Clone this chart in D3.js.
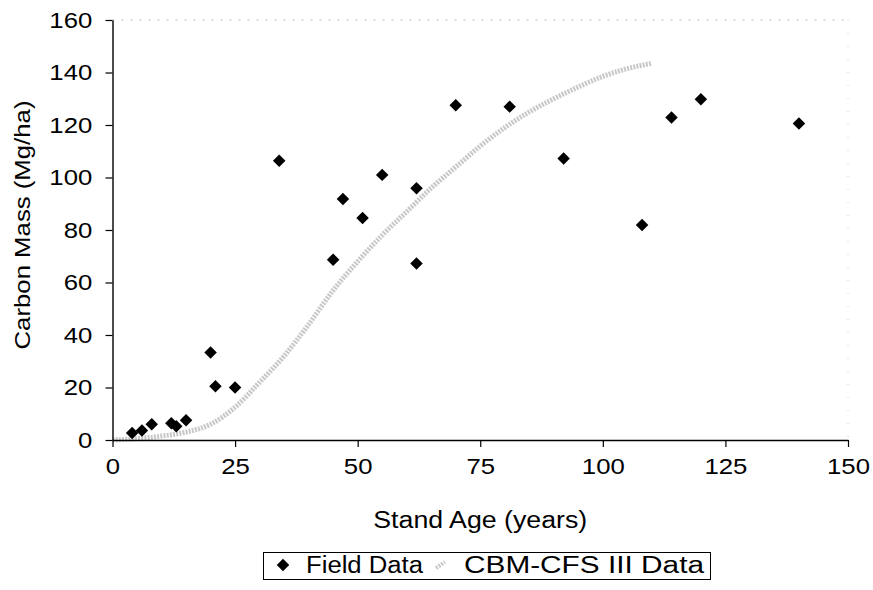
<!DOCTYPE html>
<html>
<head>
<meta charset="utf-8">
<script src="https://cdn.jsdelivr.net/npm/d3@7"></script>
<style>
  html, body { margin: 0; padding: 0; background: #fff; }
  svg { display: block; }
  text { font-family: "Liberation Sans", Arial, sans-serif; fill: #000; }
</style>
</head>
<body>
<svg id="chart" width="873" height="590"></svg>
<script>
// ---- Data ----
const fieldAge    = [4, 6, 8, 12, 13, 15, 20, 21, 25, 34, 45, 47, 51, 55, 62, 62, 70, 81, 92, 108, 114, 120, 140];
const fieldCarbon = [2.7, 3.6, 6, 6.4, 5.2, 7.5, 33.3, 20.5, 20, 106.4, 68.7, 91.8, 84.6, 101, 95.9, 67.2, 127.5, 127, 107.2, 81.9, 122.9, 129.8, 120.6];

const cbmAge    = [0, 5, 10, 15, 20, 25, 30, 35, 40, 45, 50, 55, 60, 65, 70, 75, 80, 85, 90, 95, 100, 105, 110];
const cbmCarbon = [0, 0.5, 1.5, 3, 6, 12.5, 22, 32, 44, 57, 68, 78, 87, 96, 104, 112, 119, 125, 130, 134.5, 138.5, 141.5, 143.5];

const xTicks = [0, 25, 50, 75, 100, 125, 150];
const yTicks = [0, 20, 40, 60, 80, 100, 120, 140, 160];

const xTitle = "Stand Age (years)";
const yTitle = "Carbon Mass (Mg/ha)";
const seriesNames = ["Field Data", "CBM-CFS III Data"];

// ---- Layout ----
const FS = 23, SX = 1.12;
const pL = 112.5, pR = 848, pT = 20, pB = 440;

const svg = d3.select("#chart");
const x = d3.scaleLinear().domain([0, 150]).range([pL, pR]);
const y = d3.scaleLinear().domain([0, 160]).range([pB, pT]);

// faint plot-area border (top and right)
svg.append("line").attr("x1", pL).attr("x2", pR).attr("y1", pT).attr("y2", pT)
  .attr("stroke", "#bbb").attr("stroke-width", 1).attr("stroke-dasharray", "2,7");
svg.append("line").attr("x1", pR).attr("x2", pR).attr("y1", pT).attr("y2", pB)
  .attr("stroke", "#ccc").attr("stroke-width", 1).attr("stroke-dasharray", "1,12");

// CBM curve
const cbm = cbmAge.map((a, i) => [a, cbmCarbon[i]]);
svg.append("path")
  .datum(cbm)
  .attr("fill", "none")
  .attr("stroke", "#c8c8c8")
  .attr("stroke-width", 5)
  .attr("stroke-dasharray", "2,1.2")
  .attr("d", d3.line().x(d => x(d[0])).y(d => y(d[1])).curve(d3.curveMonotoneX));

// Axes
const xAxis = svg.append("g").attr("transform", `translate(0,${pB})`)
  .call(d3.axisBottom(x).tickValues(xTicks).tickSize(7).tickSizeOuter(0).tickPadding(11));
const yAxis = svg.append("g").attr("transform", `translate(${pL},0)`)
  .call(d3.axisLeft(y).tickValues(yTicks).tickSize(7).tickSizeOuter(0).tickPadding(11));
[xAxis, yAxis].forEach(g => {
  g.select(".domain").attr("stroke", "#000").attr("stroke-width", 1.4);
  g.selectAll(".tick line").attr("stroke", "#000").attr("stroke-width", 1.2);
  g.selectAll(".tick text").attr("font-size", FS).attr("fill", "#000")
    .attr("font-family", '"Liberation Sans", Arial, sans-serif')
    .attr("transform", `scale(${SX},1)`);
});

// Field data diamonds
const sym = d3.symbol().type(d3.symbolSquare).size(78);
svg.append("g").selectAll("path")
  .data(fieldAge.map((a, i) => [a, fieldCarbon[i]]))
  .join("path")
  .attr("d", sym)
  .attr("fill", "#000")
  .attr("transform", d => `translate(${x(d[0])},${y(d[1])}) rotate(45)`);

// Titles
function label(tx, ty, str, rot, anchor, len) {
  const t = svg.append("text")
    .attr("transform", `translate(${tx},${ty})${rot ? " rotate(" + rot + ")" : ""}${len ? "" : " scale(" + SX + ",1)"}`)
    .attr("text-anchor", anchor || "middle")
    .attr("font-size", FS)
    .text(str);
  if (len) t.attr("textLength", len).attr("lengthAdjust", "spacingAndGlyphs");
  return t;
}
label((pL + pR) / 2, 528, xTitle, 0, "middle", 214);
label(30, 225, yTitle, -90);

// Legend
const lg = svg.append("g");
lg.append("rect").attr("x", 263.5).attr("y", 552.5).attr("width", 447).attr("height", 27)
  .attr("fill", "none").attr("stroke", "#000").attr("stroke-width", 1);
lg.append("path").attr("d", sym).attr("fill", "#000").attr("transform", "translate(283,565) rotate(45)");
label(306, 573, seriesNames[0], 0, "start", 117);
lg.append("line").attr("x1", 436).attr("x2", 445).attr("y1", 568).attr("y2", 562)
  .attr("stroke", "#c8c8c8").attr("stroke-width", 4).attr("stroke-dasharray", "2,1.2");
label(464, 573, seriesNames[1], 0, "start", 240);
</script>
</body>
</html>
